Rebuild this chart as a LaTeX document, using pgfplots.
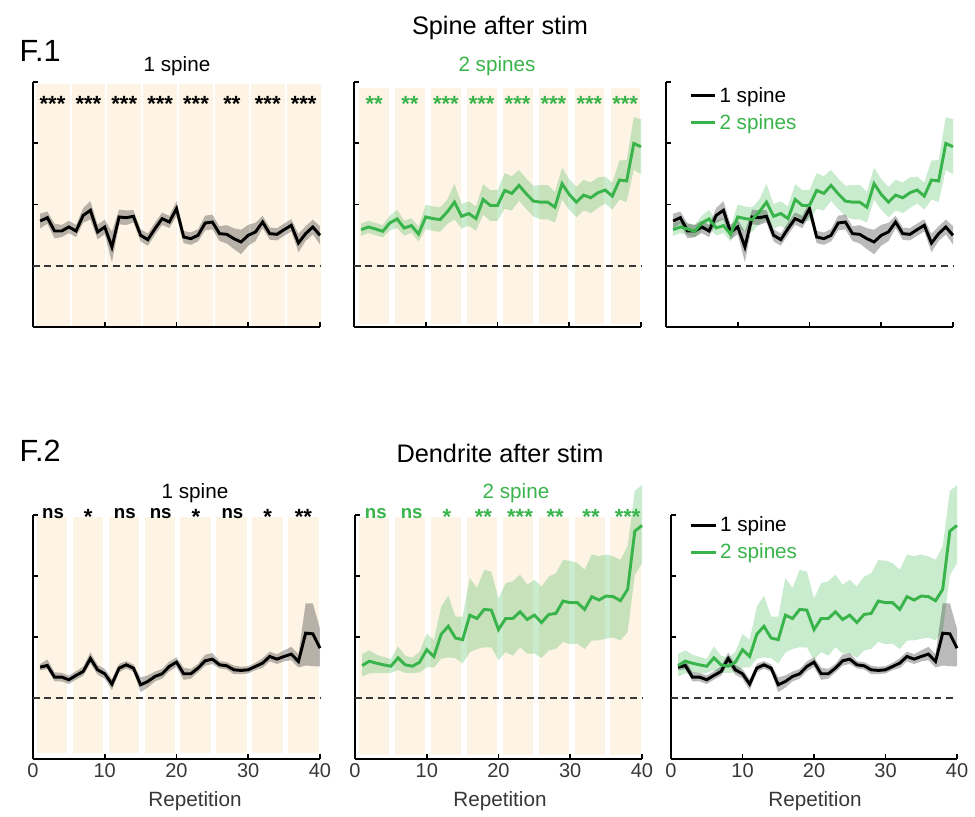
\documentclass[border=0pt]{standalone}
\usepackage{pgfplots}
\pgfplotsset{compat=1.18}
\usepackage{pgfplotstable}
\usepgfplotslibrary{fillbetween}
\usepackage{fontspec}
\setmainfont{Liberation Sans}
\definecolor{beige}{RGB}{253,244,229}
\definecolor{lgreen}{RGB}{57,180,74}
\definecolor{dgray}{RGB}{55,55,55}

% Spine after stim, 1 spine
\pgfplotstableread{
x y u d
1 1.730 .12 .12
2 1.785 .10 .10
3 1.567 .12 .12
4 1.567 .10 .10
5 1.633 .10 .10
6 1.567 .10 .10
7 1.823 .12 .12
8 1.905 .15 .15
9 1.551 .12 .12
10 1.633 .12 .12
11 1.306 .25 .25
12 1.796 .12 .12
13 1.785 .12 .12
14 1.807 .10 .10
15 1.497 .10 .10
16 1.426 .10 .10
17 1.605 .10 .10
18 1.769 .10 .10
19 1.714 .10 .10
20 1.932 .12 .12
21 1.469 .10 .10
22 1.442 .10 .10
23 1.497 .10 .10
24 1.698 .12 .12
25 1.714 .12 .12
26 1.524 .12 .12
27 1.513 .15 .15
28 1.442 .17 .17
29 1.388 .20 .20
30 1.497 .17 .17
31 1.551 .15 .15
32 1.714 .10 .10
33 1.524 .10 .10
34 1.513 .10 .10
35 1.589 .10 .10
36 1.660 .10 .10
37 1.371 .15 .15
38 1.524 .12 .12
39 1.633 .12 .12
40 1.497 .15 .15
}\TopOne

% Spine after stim, 2 spines
\pgfplotstableread{
x y u d
1 1.589 .10 .10
2 1.633 .10 .10
3 1.600 .10 .10
4 1.562 .10 .10
5 1.699 .12 .12
6 1.764 .15 .15
7 1.616 .12 .12
8 1.655 .12 .12
9 1.518 .12 .12
10 1.797 .20 .20
11 1.770 .20 .20
12 1.753 .20 .20
13 1.879 .20 .20
14 2.038 .30 .28
15 1.808 .20 .20
16 1.852 .20 .20
17 1.770 .20 .20
18 2.082 .25 .25
19 1.984 .25 .25
20 1.984 .25 .25
21 2.230 .28 .30
22 2.181 .28 .28
23 2.312 .25 .25
24 2.175 .25 .25
25 2.055 .25 .25
26 2.038 .28 .28
27 2.038 .28 .28
28 1.956 .25 .25
29 2.340 .26 .26
30 2.164 .25 .25
31 2.038 .25 .25
32 2.153 .25 .25
33 2.110 .25 .25
34 2.192 .25 .25
35 2.236 .22 .22
36 2.137 .22 .22
37 2.400 .32 .32
38 2.384 .34 .34
39 2.997 .43 .43
40 2.942 .45 .45
}\TopTwo

% Dendrite after stim, 1 spine
\pgfplotstableread{
x y u d
1 1.506 .05 .05
2 1.533 .10 .06
3 1.342 .08 .07
4 1.342 .07 .07
5 1.299 .07 .07
6 1.370 .07 .07
7 1.435 .08 .07
8 1.648 .10 .08
9 1.462 .08 .08
10 1.397 .08 .08
11 1.228 .08 .10
12 1.490 .07 .07
13 1.544 .06 .06
14 1.490 .06 .06
15 1.217 .12 .12
16 1.271 .10 .10
17 1.353 .08 .08
18 1.397 .08 .08
19 1.517 .08 .08
20 1.588 .08 .08
21 1.397 .10 .10
22 1.397 .08 .08
23 1.490 .07 .07
24 1.610 .10 .08
25 1.637 .10 .08
26 1.544 .06 .06
27 1.528 .06 .06
28 1.462 .07 .07
29 1.452 .06 .06
30 1.462 .06 .06
31 1.517 .06 .06
32 1.572 .08 .08
33 1.681 .08 .08
34 1.637 .08 .08
35 1.681 .10 .08
36 1.719 .12 .10
37 1.599 .12 .10
38 2.063 .49 .53
39 2.052 .50 .53
40 1.817 .32 .30
}\BotOne

% Dendrite after stim, 2 spines
\pgfplotstableread{
x y u d
1 1.532 .19 .18
2 1.603 .18 .20
3 1.570 .14 .16
4 1.543 .13 .13
5 1.521 .12 .11
6 1.658 .19 .20
7 1.543 .15 .13
8 1.521 .14 .11
9 1.587 .17 .17
10 1.791 .26 .29
11 1.680 .27 .18
12 2.044 .45 .40
13 2.176 .50 .51
14 1.983 .35 .33
15 1.956 .38 .39
16 2.358 .61 .61
17 2.303 .50 .50
18 2.452 .65 .62
19 2.441 .63 .61
20 2.121 .51 .50
21 2.303 .58 .55
22 2.303 .61 .61
23 2.413 .61 .58
24 2.287 .57 .56
25 2.358 .58 .63
26 2.237 .59 .58
27 2.369 .62 .59
28 2.386 .66 .58
29 2.590 .67 .67
30 2.562 .69 .68
31 2.562 .65 .67
32 2.452 .65 .65
33 2.661 .69 .72
34 2.606 .72 .66
35 2.672 .68 .70
36 2.661 .66 .67
37 2.595 .67 .65
38 2.782 .71 .70
39 3.736 .66 .72
40 3.829 .66 .62
}\BotTwo

\newcommand{\bands}[4]{%
  \pgfplotsinvokeforeach{0,5,...,35}{%
    \addplot[draw=none, fill=beige, forget plot, on layer=axis background]
      table[x expr=\thisrow{x}+##1, y=y, row sep=\\] {x y\\ #1 #3\\ #2 #3\\ #2 #4\\ #1 #4\\};}}
\newcommand{\refline}{\addplot[dgray, line width=1.2pt, dash pattern=on 5pt off 3.6pt, forget plot] coordinates {(0,1) (40,1)};}
\newcommand{\errband}[3]{% table, name, colour
  \addplot[name path=#2u, draw=none, forget plot] table[x=x, y expr=\thisrow{y}+\thisrow{u}] {#1};
  \addplot[name path=#2l, draw=none, forget plot] table[x=x, y expr=\thisrow{y}-\thisrow{d}] {#1};
  \addplot[draw=none, fill=#3, fill opacity=0.27, forget plot] fill between[of=#2u and #2l];}
\newcommand{\starfont}{\bfseries\fontsize{16.5}{18}\selectfont}
\newcommand{\nsfont}{\bfseries\fontsize{14}{17}\selectfont}

\pgfplotsset{
  panel/.style={scale only axis, width=215.25pt, height=183.75pt, set layers,
    xmin=0, xmax=40, ymin=0, ymax=4, anchor=south west, clip=false,
    axis x line=bottom, axis y line=left,
    axis line style={line width=1.6pt, -},
    xtick={0,10,20,30,40}, ytick={0,1,2,3,4}, yticklabels={},
    tick align=inside, major tick length=3.5pt,
    tick style={line width=1.4pt, black},
    /pgf/number format/assume math mode=true,
    ticklabel style={font=\fontsize{15}{18}\selectfont, text=dgray},
    legend style={draw=none, fill=none, anchor=north west,
      font=\fontsize{15.5}{18}\selectfont, inner sep=0pt, row sep=3.5pt,
      cells={anchor=west}},
    legend image code/.code={\draw[##1, line width=2.2pt] (0pt,0pt) -- (18.5pt,0pt);},
  },
  toprow/.style={xticklabels={}},
}

\begin{document}
\begin{tikzpicture}
% ---------- Row 1: Spine after stim ----------
\begin{axis}[panel, toprow, at={(24.75pt,367.5pt)}]
  \bands{0.37}{5.1}{0}{3.97}
  \refline
  \errband{\TopOne}{pa}{black}
  \addplot[black, line width=2.2pt] table[x=x,y=y] {\TopOne};
  \pgfplotsinvokeforeach{0,5,10,15,20,30,35}{\node[anchor=base, font=\starfont] at (axis cs:{#1+2.72},3.52) {***};}
  \node[anchor=base, font=\starfont] at (axis cs:27.72,3.52) {**};
\end{axis}

\begin{axis}[panel, toprow, at={(265.5pt,367.5pt)}]
  \bands{0.75}{4.88}{0.05}{3.9}
  \refline
  \errband{\TopTwo}{pb}{lgreen}
  \addplot[lgreen, line width=2.2pt] table[x=x,y=y] {\TopTwo};
  \pgfplotsinvokeforeach{0,5}{\node[anchor=base, font=\starfont, text=lgreen] at (axis cs:{#1+2.8},3.52) {**};}
  \pgfplotsinvokeforeach{10,15,20,25,30,35}{\node[anchor=base, font=\starfont, text=lgreen] at (axis cs:{#1+2.8},3.52) {***};}
\end{axis}

\begin{axis}[panel, toprow, at={(499.5pt,367.5pt)},
  legend style={at={(0.08,0.99)}}]
  \refline
  \errband{\TopTwo}{pc}{lgreen}
  \errband{\TopOne}{pd}{black}
  \addplot[black, line width=2.2pt] table[x=x,y=y] {\TopOne};
  \addlegendentry{\textcolor{black}{1 spine}}
  \addplot[lgreen, line width=2.2pt] table[x=x,y=y] {\TopTwo};
  \addlegendentry{\textcolor{lgreen}{2 spines}}
\end{axis}

% ---------- Row 2: Dendrite after stim ----------
\begin{axis}[panel, height=183pt, at={(24.75pt,43.5pt)}]
  \bands{0.55}{4.8}{0.1}{3.96}
  \refline
  \errband{\BotOne}{pe}{black}
  \addplot[black, line width=2.2pt] table[x=x,y=y] {\BotOne};
  \pgfplotsinvokeforeach{0,10,15,25}{\node[anchor=base, font=\nsfont] at (axis cs:{#1+2.8},3.95) {ns};}
  \pgfplotsinvokeforeach{5,20,30}{\node[anchor=base, font=\starfont] at (axis cs:{#1+2.7},3.85) {*};}
  \node[anchor=base, font=\starfont] at (axis cs:37.7,3.85) {**};
\end{axis}

\begin{axis}[panel, height=183pt, at={(266.25pt,43.5pt)}]
  \bands{0.6}{4.8}{0.07}{3.96}
  \refline
  \errband{\BotTwo}{pf}{lgreen}
  \addplot[lgreen, line width=2.2pt] table[x=x,y=y] {\BotTwo};
  \pgfplotsinvokeforeach{0,5}{\node[anchor=base, font=\nsfont, text=lgreen] at (axis cs:{#1+2.9},3.95) {ns};}
  \node[anchor=base, font=\starfont, text=lgreen] at (axis cs:12.8,3.85) {*};
  \pgfplotsinvokeforeach{15,25,30}{\node[anchor=base, font=\starfont, text=lgreen] at (axis cs:{#1+2.9},3.85) {**};}
  \pgfplotsinvokeforeach{20,35}{\node[anchor=base, font=\starfont, text=lgreen] at (axis cs:{#1+3.0},3.85) {***};}
\end{axis}

\begin{axis}[panel, height=183pt, width=214.5pt, at={(503.25pt,43.5pt)},
  legend style={at={(0.065,1.005)}}]
  \refline
  \errband{\BotTwo}{pg}{lgreen}
  \errband{\BotOne}{ph}{black}
  \addplot[black, line width=2.2pt] table[x=x,y=y] {\BotOne};
  \addlegendentry{\textcolor{black}{1 spine}}
  \addplot[lgreen, line width=2.2pt] table[x=x,y=y] {\BotTwo};
  \addlegendentry{\textcolor{lgreen}{2 spines}}
\end{axis}

% ---------- Titles and labels ----------
\node[anchor=base west, font=\fontsize{23}{26}\selectfont] at (11.25pt,566.25pt) {F.1};
\node[anchor=base, font=\fontsize{19}{22}\selectfont] at (375pt,586.5pt) {Spine after stim};
\node[anchor=base, font=\fontsize{15.5}{18}\selectfont] at (132.75pt,558.75pt) {1 spine};
\node[anchor=base, font=\fontsize{15.5}{18}\selectfont, text=lgreen] at (372.75pt,558.75pt) {2 spines};

\node[anchor=base west, font=\fontsize{23}{26}\selectfont] at (11.25pt,266.25pt) {F.2};
\node[anchor=base, font=\fontsize{19}{22}\selectfont] at (375pt,265.5pt) {Dendrite after stim};
\node[anchor=base, font=\fontsize{15.5}{18}\selectfont] at (146.25pt,238.5pt) {1 spine};
\node[anchor=base, font=\fontsize{15.5}{18}\selectfont, text=lgreen] at (387pt,238.5pt) {2 spine};

\node[anchor=base, font=\fontsize{15.5}{18}\selectfont, text=dgray] at (146.25pt,7.5pt) {Repetition};
\node[anchor=base, font=\fontsize{15.5}{18}\selectfont, text=dgray] at (375pt,7.5pt) {Repetition};
\node[anchor=base, font=\fontsize{15.5}{18}\selectfont, text=dgray] at (611.25pt,7.5pt) {Repetition};

\pgfresetboundingbox
\useasboundingbox (0pt,0pt) rectangle (731.25pt,612.75pt);
\end{tikzpicture}
\end{document}
